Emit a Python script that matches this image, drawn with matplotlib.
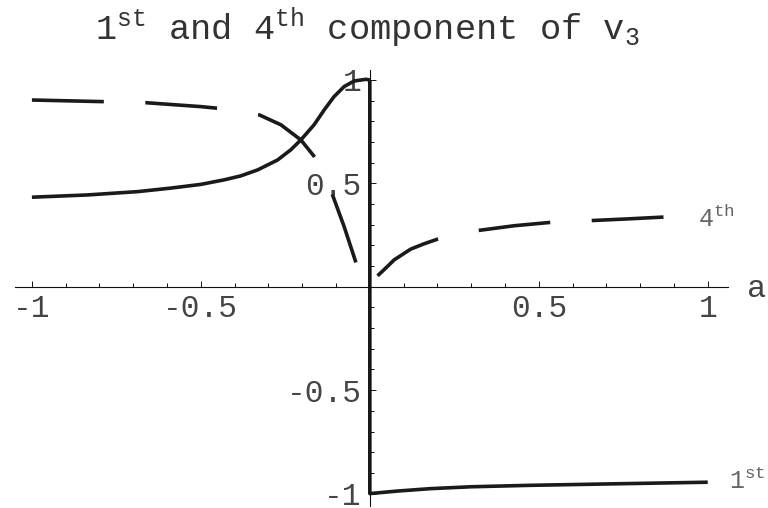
import numpy as np
import matplotlib
matplotlib.use("Agg")
import matplotlib.pyplot as plt
from matplotlib.ticker import FixedLocator, FixedFormatter, MultipleLocator

plt.rcParams['font.family'] = ['Liberation Mono', 'DejaVu Sans Mono']
plt.rcParams['mathtext.fontset'] = 'custom'
plt.rcParams['mathtext.rm'] = 'Liberation Mono'
plt.rcParams['mathtext.it'] = 'Liberation Mono'
plt.rcParams['lines.scale_dashes'] = False

# 1st component of v3 (jumps from +1 to -1 at a = 0)
a1_left = [-1.0, -0.835, -0.687, -0.589, -0.5, -0.431, -0.382, -0.332, -0.273,
           -0.234, -0.204, -0.165, -0.135, -0.106, -0.076, -0.046, -0.012, 0.0]
v1_left = [0.433, 0.444, 0.46, 0.477, 0.495, 0.517, 0.536, 0.565, 0.613,
           0.662, 0.71, 0.783, 0.855, 0.919, 0.968, 0.995, 1.003, 1.0]
a1_right = [0.0, 0.0, 0.08, 0.18, 0.3, 0.476, 0.75, 1.0]
v1_right = [1.0, -1.0, -0.988, -0.976, -0.967, -0.96, -0.952, -0.945]

# 4th component of v3
a4_left = [-1.0, -0.786, -0.663, -0.5, -0.45, -0.39, -0.327, -0.263, -0.204,
           -0.163, -0.14, -0.113, -0.076, -0.041]
v4_left = [0.903, 0.895, 0.89, 0.871, 0.863, 0.85, 0.831, 0.783, 0.71,
           0.627, 0.55, 0.456, 0.291, 0.117]
a4_right = [0.023, 0.047, 0.072, 0.121, 0.161, 0.2, 0.32, 0.427, 0.533, 0.654, 0.762, 0.869]
v4_right = [0.053, 0.09, 0.13, 0.182, 0.208, 0.23, 0.272, 0.295, 0.311, 0.32, 0.328, 0.337]

xticks = [-1, -0.5, 0.5, 1]
xtick_labels = ['-1', '-0.5', '0.5', '1']
yticks = [-1, -0.5, 0.5, 1]
ytick_labels = ['-1', '-0.5', '0.5', '1']

W, H = 768, 508
fig = plt.figure(figsize=(W / 100, H / 100), dpi=100)
ax = fig.add_axes([15 / W, 2 / H, (728 - 15) / W, (506 - 69.6) / H])
ax.set_xlim(-1.05, 1.06)
ax.set_ylim(-1.06, 1.05)

ink = '#1a1a1a'
lw = 2.6
dash = (0, (51.8, 29.9))
ax.plot(a1_left, v1_left, color=ink, lw=lw, solid_capstyle='butt', solid_joinstyle='round')
ax.plot(a1_right, v1_right, color=ink, lw=lw, solid_capstyle='butt', solid_joinstyle='round')
ax.plot(a4_left, v4_left, color=ink, lw=lw, ls=dash, dash_capstyle='butt', dash_joinstyle='round')
ax.plot(a4_right, v4_right, color=ink, lw=lw, ls=dash, dash_capstyle='butt', dash_joinstyle='round')

# axes through the origin
for side in ['top', 'right']:
    ax.spines[side].set_visible(False)
for side in ['left', 'bottom']:
    ax.spines[side].set_position(('data', 0))
    ax.spines[side].set_linewidth(0.8)
    ax.spines[side].set_color('#111111')
ax.patch.set_visible(False)

ax.xaxis.set_major_locator(FixedLocator(xticks))
ax.xaxis.set_major_formatter(FixedFormatter(xtick_labels))
ax.xaxis.set_minor_locator(MultipleLocator(0.1))
ax.yaxis.set_major_locator(FixedLocator(yticks))
ax.yaxis.set_major_formatter(FixedFormatter(ytick_labels))
ax.yaxis.set_minor_locator(MultipleLocator(0.1))
ax.tick_params(which='both', direction='in', color='#111111', width=0.7,
               labelsize=22.5, labelcolor='#444444')
ax.tick_params(which='major', length=4.5)
ax.tick_params(which='minor', length=3)
ax.tick_params(axis='x', pad=5)
ax.tick_params(axis='y', pad=6)

fig.text(747 / W, 1 - 297 / H, 'a', fontsize=23, color='#444444', va='baseline')
fig.text(698 / W, 1 - 227 / H, r'4$^{\mathrm{th}}$', fontsize=18,
         color='#666666', va='baseline')
fig.text(729 / W, 1 - 489 / H, r'1$^{\mathrm{st}}$', fontsize=18,
         color='#666666', va='baseline')

fig.text(367 / W, 1 - 40 / H,
         r'1$^{\mathrm{st}}$ and 4$^{\mathrm{th}}$ component of v$_{3}$',
         fontsize=25.5, color='#333333', ha='center', va='baseline')

fig.savefig('out.png', dpi=100)
